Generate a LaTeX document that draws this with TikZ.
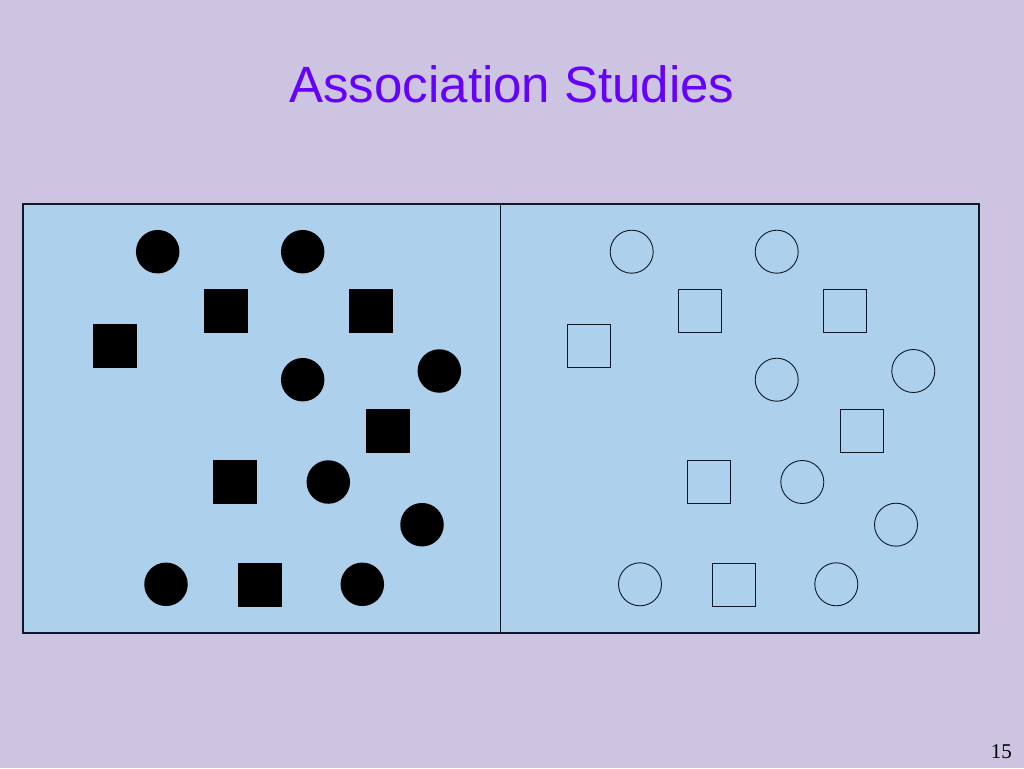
\documentclass[tikz,border=0pt]{standalone}
\usepackage{xcolor}
\usepackage{fontspec}
\setmainfont{Liberation Serif}
\newfontfamily\titlefont{Liberation Sans}
\usetikzlibrary{positioning}

\definecolor{slidebg}{RGB}{204,196,224}
\definecolor{panelblue}{RGB}{173,208,236}
\definecolor{titleviolet}{RGB}{102,0,255}
\definecolor{inkline}{RGB}{16,24,40}

\begin{document}
\begin{tikzpicture}[x=1pt, y=-1pt,
		dot/.style={circle, fill=black, minimum size=43.5pt, inner sep=0pt},
		block/.style={rectangle, fill=black, minimum size=44pt, inner sep=0pt},
		ring/.style={circle, draw=inkline, line width=0.9pt, minimum size=43pt, inner sep=0pt},
		hollow/.style={rectangle, draw=inkline, line width=0.9pt, minimum size=43pt, inner sep=0pt}]
		% Background
		\fill[slidebg] (0,0) rectangle (1024,768);
		\useasboundingbox (0,0) rectangle (1024,768);

		% Title and page number
		\node (title) [anchor=base, text=titleviolet] at (512,102)
			{\titlefont\fontsize{51}{58}\selectfont Association Studies};
		\node (pagenum) [anchor=base east, inner sep=0pt] at (1012,758)
			{\fontsize{21}{24}\selectfont 15};

		% Panel
		\node (panel) [draw=inkline, fill=panelblue, line width=2pt, inner sep=0pt,
			minimum width=956pt, minimum height=429pt] at (500.5,418.8) {};
		\draw[inkline, line width=1pt] (panel.north) -- (panel.south);

		% Cases (filled)
		\foreach \x/\y [count=\i] in {157.7/251.7, 302.7/251.7, 302.7/379.7, 439.3/371,
				328.3/482, 422/524.7, 166/584.3, 362.3/584.3}
			\node (casedot\i) [dot] at (\x,\y) {};
		\foreach \x/\y [count=\i] in {226/311.2, 371/311.2, 114.8/345.5, 388/430.8,
				234.5/481.8, 260.2/584.5}
			\node (casebox\i) [block] at (\x,\y) {};

		% Controls (open)
		\foreach \x/\y [count=\i] in {157.7/251.7, 302.7/251.7, 302.7/379.7, 439.3/371,
				328.3/482, 422/524.7, 166/584.3, 362.3/584.3}
			\node (ctrldot\i) [ring] at (\x+474,\y) {};
		\foreach \x/\y [count=\i] in {226/311.2, 371/311.2, 114.8/345.5, 388/430.8,
				234.5/481.8, 260.2/584.5}
			\node (ctrlbox\i) [hollow] at (\x+474,\y) {};
	\end{tikzpicture}
\end{document}
